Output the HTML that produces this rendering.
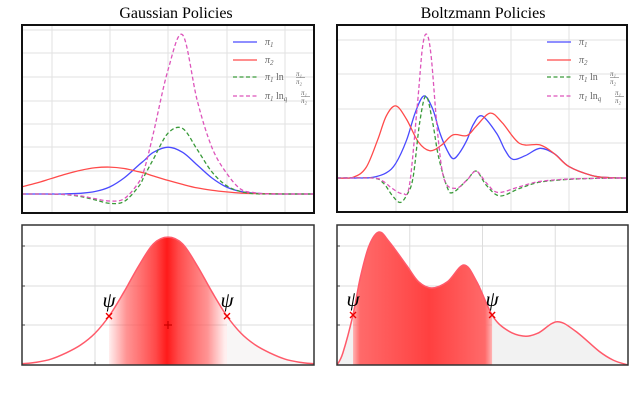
<!DOCTYPE html>
<html><head><meta charset="utf-8"><style>
html,body{margin:0;padding:0;background:#fff;overflow:hidden;}
svg{display:block;font-family:"Liberation Serif",serif;}
</style></head><body>
<svg id="fig" width="636" height="400" viewBox="0 0 636 400">
<defs>
<linearGradient id="gL" gradientUnits="userSpaceOnUse" x1="109" x2="225" y1="0" y2="0">
<stop offset="0" stop-color="#ff6060" stop-opacity="0.1"/>
<stop offset="0.15" stop-color="#ff5a5a" stop-opacity="0.65"/>
<stop offset="0.4" stop-color="#ff4a4a"/>
<stop offset="0.5" stop-color="#ff1a1a"/>
<stop offset="0.6" stop-color="#ff4a4a"/>
<stop offset="0.85" stop-color="#ff5a5a" stop-opacity="0.65"/>
<stop offset="1" stop-color="#ff6060" stop-opacity="0.1"/>
</linearGradient>
<linearGradient id="gR" gradientUnits="userSpaceOnUse" x1="353" x2="492" y1="0" y2="0">
<stop offset="0" stop-color="#ff6a6a" stop-opacity="0.5"/>
<stop offset="0.05" stop-color="#ff6a6a"/>
<stop offset="0.55" stop-color="#ff4040"/>
<stop offset="0.95" stop-color="#ff6a6a"/>
<stop offset="1" stop-color="#ff6a6a" stop-opacity="0.5"/>
</linearGradient>
</defs>
<text x="176" y="18" font-size="16" text-anchor="middle">Gaussian Policies</text>
<text x="483" y="18" font-size="16" text-anchor="middle">Boltzmann Policies</text>
<g id="tl"></g>
<g id="tr"></g>
<g id="bl"></g>
<g id="br"></g>
</svg>
<script>
// ---- Gaussian (top-left) data ----
const gX = [0,5,10,15,20,25,30,35,40,42,45,50,55,60,65,70,75,80,85,90,95,100];
const gBlue = [0,0,0.001,0.006,0.03,0.105,0.30,0.69,1.24,1.45,1.78,2.0,1.78,1.24,0.69,0.30,0.105,0.03,0.006,0,0,0];
const gRed = [0.31,0.47,0.66,0.85,1.01,1.12,1.15,1.09,0.95,0.89,0.77,0.58,0.41,0.26,0.16,0.09,0.04,0.02,0.01,0,0,0];
const gGreen = [0,0,-0.005,-0.03,-0.105,-0.25,-0.40,-0.32,0.33,0.8,1.49,2.6,2.8,1.9,0.95,0.36,0.1,0.01,0,0,0,0];
const gPink = [0,0,-0.005,-0.02,-0.08,-0.2,-0.3,-0.2,0.5,1.1,2.6,5.3,6.8,4.0,2.0,0.9,0.2,0.05,0,0,0,0];
// ---- Boltzmann (top-right) data ----
const bRedX = [0,5.5,10,14,17,20.3,24,28,32,36,40,44.8,48,52.8,57,63,70,75,80,88,94,100];
const bRed = [0,0.02,0.3,1.1,1.8,2.09,1.7,1.05,0.79,0.95,1.25,1.23,1.5,1.88,1.6,1.0,0.96,0.7,0.33,0.07,0.01,0];
const bBlueX = [0,8,12.4,17,20.3,24,27,30,33,35.5,38,40,42,44.8,47,50,55,58,60.7,65,70,75,80,88,94,100];
const bBlue = [0,0,0.02,0.15,0.43,1.1,1.9,2.38,2.0,1.3,0.8,0.56,0.7,1.1,1.55,1.8,1.3,0.8,0.54,0.65,0.86,0.7,0.33,0.07,0.01,0];
const bGreenX = [0,12.4,16,19,21.7,24,26.2,28.5,30.7,33,35,38,40,44.8,48,51.6,56.2,63,70,80,90,100];
const bGreen = [0,0,-0.15,-0.5,-0.71,-0.5,0,1.6,2.38,1.6,0.62,-0.27,-0.42,-0.06,0.2,-0.22,-0.52,-0.3,-0.12,-0.04,-0.01,0];
const bPinkX = [0,12.4,16,19,22.6,25,27.8,29.5,31,32.5,34.7,37,41,44.8,48,51.6,55.5,63,70,80,90,100];
const bPink = [0,0,-0.1,-0.3,-0.45,-0.2,2.2,3.8,4.16,3.5,1.3,-0.05,-0.3,-0.06,0.2,-0.15,-0.42,-0.25,-0.1,-0.03,-0.01,0];
// ---- bottom panels ----
const lX = [0,5,10,15,20,25,30,35,40,45,50,55,60,65,70,75,80,85,90,95,100];
const lV = [0.03,0.07,0.15,0.3,0.5,0.8,1.25,1.85,2.5,3.05,3.22,3.05,2.5,1.85,1.25,0.8,0.5,0.3,0.15,0.07,0.03];
const lPsi = [29.8,70.2];
const rX = [0,2,5.5,8,11,14.4,18,24,28,32.6,38,43.6,48,53.3,58,63.9,69,75.6,82,90,95,100];
const rV = [0,0.3,1.26,2.2,3.0,3.35,3.1,2.5,2.1,1.94,2.1,2.52,2.1,1.26,0.9,0.73,0.8,1.09,0.85,0.35,0.12,0];
const rPsi = [5.5,53.3];

const NS='http://www.w3.org/2000/svg';
function mk(tag,attrs,parent){const e=document.createElementNS(NS,tag);for(const k in attrs)e.setAttribute(k,attrs[k]);parent.appendChild(e);return e;}
function interp(xs,ys,x){for(let i=0;i<xs.length-1;i++){if(x>=xs[i]&&x<=xs[i+1]){const t=(x-xs[i])/(xs[i+1]-xs[i]);return ys[i]+t*(ys[i+1]-ys[i]);}}return ys[ys.length-1];}
function smooth(pts){let d='M'+pts[0][0].toFixed(2)+','+pts[0][1].toFixed(2);
for(let i=0;i<pts.length-1;i++){const p0=pts[Math.max(0,i-1)],p1=pts[i],p2=pts[i+1],p3=pts[Math.min(pts.length-1,i+2)];
const c1=[p1[0]+(p2[0]-p0[0])/6,p1[1]+(p2[1]-p0[1])/6],c2=[p2[0]-(p3[0]-p1[0])/6,p2[1]-(p3[1]-p1[1])/6];
d+='C'+c1[0].toFixed(2)+','+c1[1].toFixed(2)+' '+c2[0].toFixed(2)+','+c2[1].toFixed(2)+' '+p2[0].toFixed(2)+','+p2[1].toFixed(2);}return d;}

function topPanel(g,x0,x1,y0,y1,base,unit,vgrid,hgrid,series,legX){
  const sx=v=>x0+(x1-x0)*v/100, sy=v=>base-v*unit;
  const cp='cp'+g.id; const c=mk('clipPath',{id:cp},g); mk('rect',{x:x0,y:y0,width:x1-x0,height:y1-y0},c);
  vgrid.forEach(x=>{const l=mk('line',{x1:x,x2:x,y1:y0,y2:y1,stroke:'#e2e2e2','stroke-width':1},g);});
  hgrid.forEach(y=>{const l=mk('line',{x1:x0,x2:x1,y1:y,y2:y,stroke:'#e2e2e2','stroke-width':1},g);});
  series.forEach(s=>{const p=mk('path',{d:smooth(s.x.map((xv,i)=>[sx(xv),sy(s.y[i])])),fill:'none',stroke:s.c,'stroke-width':1.3,'clip-path':'url(#'+cp+')'},g);
    if(s.dash)p.setAttribute('stroke-dasharray','4,2.5');
    });
  const fr=mk('rect',{x:x0,y:y0,width:x1-x0,height:y1-y0,fill:'none',stroke:'#111','stroke-width':2},g);
  
  const ly=[42,60,77,96];
  series.forEach((s,i)=>{const l=mk('line',{x1:legX,x2:legX+24,y1:ly[i],y2:ly[i],stroke:s.c,'stroke-width':1.3},g);
    if(s.dash)l.setAttribute('stroke-dasharray','4,2.5');
    
    const t=mk('text',{x:legX+32,y:ly[i]+3,'font-size':10,fill:'#666','font-style':'italic'},g);
    
    if(i<2){t.innerHTML='π<tspan font-size="7" dy="2">'+(i+1)+'</tspan>';}
    else{t.innerHTML='π<tspan font-size="7" dy="2">1</tspan><tspan dy="-2" font-style="normal"> ln</tspan>'+(i==3?'<tspan font-size="7" dy="2">q</tspan><tspan dy="-2"> </tspan>':' ');
      const fx=legX+32+(i==3?36:31);
      mk('text',{x:fx,y:ly[i]-1,'font-size':7,fill:'#666','font-style':'italic'},g).textContent='π₁';
      mk('line',{x1:fx,x2:fx+9,y1:ly[i]+0.5,y2:ly[i]+0.5,stroke:'#777','stroke-width':0.6},g);
      mk('text',{x:fx,y:ly[i]+7,'font-size':7,fill:'#666','font-style':'italic'},g).textContent='π₂';}
  });
}
topPanel(document.getElementById('tl'),22,314,25,213,194,23.4,[52,110,168,227,285],[30,53,77,101,124,147,171,194],
 [{x:gX,y:gBlue,c:'#4a4aff',n:'pi1-line'},{x:gX,y:gRed,c:'#ff4a4a',n:'pi2-line'},{x:gX,y:gGreen,c:'#3a9a3a',dash:1,n:'kl-term-line'},{x:gX,y:gPink,c:'#dd55bb',dash:1,n:'tsallis-term-line'}],233);
topPanel(document.getElementById('tr'),337,627,25,212,178,34.5,[396,453,511,569],[40,74,109,143,178],
 [{x:bBlueX,y:bBlue,c:'#4a4aff',n:'pi1-line'},{x:bRedX,y:bRed,c:'#ff4a4a',n:'pi2-line'},{x:bGreenX,y:bGreen,c:'#3a9a3a',dash:1,n:'kl-term-line'},{x:bPinkX,y:bPink,c:'#dd55bb',dash:1,n:'tsallis-term-line'}],547);

function botPanel(g,x0,x1,xs,vs,psi,grad,grayL,grayColor,center){
  const y0=225,y1=365,unit=39.7,sx=v=>x0+(x1-x0)*v/100,sy=v=>y1-v*unit;
  const vg=[0.25,0.5,0.75].map(f=>x0+(x1-x0)*f),hg=[246,286,325];
  vg.forEach(x=>{const l=mk('line',{x1:x,x2:x,y1:y0,y2:y1,stroke:'#ddd'},g);
    mk('line',{x1:x,x2:x,y1:y1-3,y2:y1,stroke:'#444'},g);});
  hg.forEach(y=>{const l=mk('line',{x1:x0,x2:x1,y1:y,y2:y,stroke:'#ddd'},g);
    mk('line',{x1:x0,x2:x0+3,y1:y,y2:y,stroke:'#444'},g);});
  const curve=smooth(xs.map((x,i)=>[sx(x),sy(vs[i])]));
  const areaD=curve+'L'+sx(100)+','+y1+'L'+sx(0)+','+y1+'Z';
  function clipped(a,b,fill,name){const id='c'+g.id+name+Math.round(a);
    const c=mk('clipPath',{id:id},g);mk('rect',{x:sx(a),y:y0,width:sx(b)-sx(a),height:y1-y0},c);
    const p=mk('path',{d:areaD,fill:fill,'clip-path':'url(#'+id+')'},g);
    }
  clipped(psi[1],100,grayColor,'tail-region');
  if(grayL)clipped(0,psi[0],grayColor,'tail-region');
  clipped(psi[0],psi[1],'url(#'+grad+')','trust-region-fill');
  const cv=mk('path',{d:curve,fill:'none',stroke:'#ff5a6a','stroke-width':1.5},g);
  
  psi.forEach(p=>{const px=sx(p),py=sy(interp(xs,vs,p));
    const m=mk('path',{d:`M${px-3},${py-3}L${px+3},${py+3}M${px-3},${py+3}L${px+3},${py-3}`,stroke:'#e00','stroke-width':1.4},g);
    
    const t=mk('text',{x:px,y:py-9,'font-size':21,'font-style':'italic','text-anchor':'middle'},g);t.textContent='ψ';
    });
  if(center!==undefined){const cx=sx(center),cy=325;
    const c=mk('path',{d:`M${cx-4},${cy}L${cx+4},${cy}M${cx},${cy-4}L${cx},${cy+4}`,stroke:'#c00','stroke-width':1.2},g);
    }
  const fr=mk('rect',{x:x0,y:y0,width:x1-x0,height:y1-y0,fill:'none',stroke:'#333','stroke-width':1.5},g);
  
}
botPanel(document.getElementById('bl'),22,314,lX,lV,lPsi,'gL',false,'#f8f6f6',50);
botPanel(document.getElementById('br'),337,628,rX,rV,rPsi,'gR',true,'#f2f2f2');
</script>
</body></html>
